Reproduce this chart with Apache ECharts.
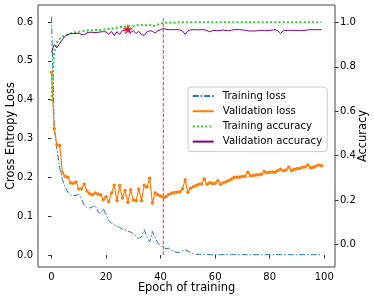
<!DOCTYPE html>
<html>
<head>
<meta charset="utf-8">
<script src="https://cdn.jsdelivr.net/npm/echarts@6/dist/echarts.min.js"></script>
<style>
html,body{margin:0;padding:0;background:#fff;}
#chart{width:374px;height:299px;}
</style>
</head>
<body>
<div id="chart"></div>
<script>
// ---- data ----
const seriesNames = ['Training loss', 'Validation loss', 'Training accuracy', 'Validation accuracy'];

const trainLoss = [
  0.613, 0.33, 0.272, 0.225, 0.195, 0.175, 0.162, 0.155, 0.153, 0.154,
  0.156, 0.145, 0.128, 0.122, 0.121, 0.124, 0.128, 0.112, 0.107, 0.119,
  0.104, 0.089, 0.082, 0.078, 0.075, 0.071, 0.067, 0.065, 0.062, 0.059,
  0.055, 0.048, 0.043, 0.047, 0.065, 0.047, 0.034, 0.061, 0.045, 0.031,
  0.025, 0.021, 0.016, 0.018, 0.013, 0.009, 0.007, 0.007, 0.011, 0.014,
  0.010, 0.006, 0.003, 0.002, 0.002, 0.002, 0.002, 0.002, 0.001, 0.001,
  0.001, 0.001, 0.001, 0.001, 0.001, 0.001, 0.001, 0.001, 0.001, 0.001,
  0.001, 0.001, 0.001, 0.001, 0.001, 0.001, 0.001, 0.001, 0.001, 0.001,
  0.001, 0.001, 0.001, 0.001, 0.001, 0.001, 0.001, 0.001, 0.001, 0.001,
  0.001, 0.001, 0.001, 0.001, 0.001, 0.001, 0.001, 0.001, 0.001, 0.001
];

const valLoss = [
  0.47, 0.325, 0.284, 0.282, 0.212, 0.203, 0.2, 0.186, 0.185, 0.188,
  0.17, 0.171, 0.182, 0.165, 0.158, 0.155, 0.16, 0.157, 0.155, 0.143,
  0.15, 0.137, 0.16, 0.18, 0.14, 0.179, 0.147, 0.166, 0.136, 0.168,
  0.142, 0.14, 0.17, 0.14, 0.18, 0.175, 0.198, 0.134, 0.16, 0.155,
  0.152, 0.148, 0.151, 0.156, 0.159, 0.161, 0.162, 0.163, 0.17, 0.194,
  0.162, 0.172, 0.176, 0.179, 0.182, 0.183, 0.196, 0.182, 0.186, 0.184,
  0.185, 0.191, 0.182, 0.186, 0.189, 0.192, 0.196, 0.2, 0.2, 0.201,
  0.202, 0.203, 0.213, 0.204, 0.205, 0.206, 0.207, 0.208, 0.215, 0.212,
  0.213, 0.214, 0.213, 0.218, 0.221, 0.217, 0.219, 0.227, 0.218, 0.221,
  0.222, 0.223, 0.226, 0.227, 0.232, 0.225, 0.226, 0.229, 0.232, 0.23
];

const trainAcc = [
  0.645, 0.87, 0.91, 0.926, 0.935, 0.94, 0.945, 0.95, 0.953, 0.956,
  0.958, 0.96, 0.962, 0.963, 0.963, 0.964, 0.965, 0.966, 0.966, 0.967,
  0.969, 0.97, 0.971, 0.973, 0.976, 0.978, 0.979, 0.98, 0.981, 0.983,
  0.984, 0.986, 0.988, 0.988, 0.986, 0.988, 0.989, 0.983, 0.985, 0.99,
  0.994, 0.997, 0.999, 0.998, 0.999, 0.998, 0.999, 1.0, 1.0, 1.0,
  1.0, 1.0, 1.0, 1.0, 1.0, 1.0, 1.0, 1.0, 1.0, 1.0,
  1.0, 1.0, 1.0, 1.0, 1.0, 1.0, 1.0, 1.0, 1.0, 1.0,
  1.0, 1.0, 1.0, 1.0, 1.0, 1.0, 1.0, 1.0, 1.0, 1.0,
  1.0, 1.0, 1.0, 1.0, 1.0, 1.0, 1.0, 1.0, 1.0, 1.0,
  1.0, 1.0, 1.0, 1.0, 1.0, 1.0, 1.0, 1.0, 1.0, 1.0
];

const valAcc = [
  0.865, 0.9, 0.885, 0.905, 0.922, 0.938, 0.945, 0.949, 0.95, 0.95,
  0.951, 0.945, 0.944, 0.953, 0.955, 0.955, 0.954, 0.955, 0.957, 0.958,
  0.957, 0.947, 0.959, 0.94, 0.958, 0.945, 0.963, 0.965, 0.97, 0.954,
  0.963, 0.949, 0.96, 0.945, 0.941, 0.957, 0.962, 0.96, 0.952, 0.962,
  0.967, 0.972, 0.969, 0.967, 0.967, 0.967, 0.967, 0.966, 0.961, 0.946,
  0.962, 0.966, 0.967, 0.967, 0.966, 0.967, 0.967, 0.962, 0.957, 0.963,
  0.963, 0.962, 0.964, 0.965, 0.963, 0.962, 0.965, 0.967, 0.967, 0.967,
  0.966, 0.964, 0.962, 0.961, 0.961, 0.961, 0.963, 0.964, 0.963, 0.962,
  0.964, 0.965, 0.967, 0.962, 0.95, 0.962, 0.964, 0.964, 0.964, 0.964,
  0.963, 0.962, 0.963, 0.964, 0.966, 0.967, 0.967, 0.967, 0.967, 0.967
];

const xTicks = [0, 20, 40, 60, 80, 100];
const lossTicks = [0.0, 0.1, 0.2, 0.3, 0.4, 0.5, 0.6];
const accTicks = [0.0, 0.2, 0.4, 0.6, 0.8, 1.0];

const starEpoch = 28;          // red star on validation accuracy
const stopEpoch = 41;          // red dashed vertical marker
// ---------------------------------------

const FONT = 'DejaVu Sans';
const pairs = arr => arr.map((v, i) => [i, v]);
const lossTop = Math.max(...trainLoss);

const chart = echarts.init(document.getElementById('chart'), null, {renderer: 'canvas'});
const tickStyle = {color: '#333', width: 1};
const noMarker = {color: 'rgba(0,0,0,0)', borderWidth: 0, opacity: 0};

const option = {
  animation: false,
  backgroundColor: '#fff',
  textStyle: {fontFamily: FONT},
  grid: {left: 38, right: 39, top: 5, bottom: 32, show: true, borderColor: '#444', borderWidth: 1,
    containLabel: false, outerBoundsMode: 'none'},
  legend: {
    data: [
      {name: seriesNames[0], itemStyle: noMarker},
      {name: seriesNames[1]},
      {name: seriesNames[2], itemStyle: noMarker},
      {name: seriesNames[3], itemStyle: noMarker}
    ],
    orient: 'vertical',
    left: 188, top: 87,
    itemWidth: 21, itemHeight: 3, itemGap: 3.2,
    padding: [3, 5, 4, 3.7],
    backgroundColor: 'rgba(255,255,255,0.85)',
    borderColor: '#ccc', borderWidth: 1, borderRadius: 3,
    textStyle: {fontFamily: FONT, fontSize: 10.2, color: '#000', lineHeight: 12, padding: [0, 0, 0, 4]}
  },
  xAxis: {
    type: 'value', min: -4.95, max: 103.95,
    name: 'Epoch of training', nameLocation: 'middle', nameGap: 16, nameMoveOverlap: false,
    nameTextStyle: {fontFamily: FONT, fontSize: 11.4, color: '#000'},
    axisLine: {show: false},
    splitLine: {show: false},
    axisTick: {show: true, length: 3.5, lineStyle: tickStyle, customValues: xTicks},
    axisLabel: {fontFamily: FONT, fontSize: 10, color: '#000', margin: 5, customValues: xTicks,
      formatter: v => String(v)}
  },
  yAxis: [{
    type: 'value', min: -0.0307, max: 0.6437, position: 'left',
    name: 'Cross Entropy Loss', nameLocation: 'middle', nameGap: 21, nameMoveOverlap: false,
    nameTextStyle: {fontFamily: FONT, fontSize: 11.4, color: '#000'},
    axisLine: {show: false},
    splitLine: {show: false},
    axisTick: {show: true, length: 3.5, lineStyle: tickStyle, customValues: lossTicks},
    axisLabel: {fontFamily: FONT, fontSize: 10, color: '#000', margin: 5, customValues: lossTicks,
      formatter: v => v.toFixed(1)}
  }, {
    type: 'value', min: -0.101, max: 1.078, position: 'right',
    name: 'Accuracy', nameLocation: 'middle', nameGap: 23, nameMoveOverlap: false,
    nameTextStyle: {fontFamily: FONT, fontSize: 11.4, color: '#000'},
    axisLine: {show: false},
    splitLine: {show: false},
    axisTick: {show: true, length: 3.5, lineStyle: tickStyle, customValues: accTicks},
    axisLabel: {fontFamily: FONT, fontSize: 10, color: '#000', margin: 5, customValues: accTicks,
      formatter: v => v.toFixed(1)}
  }],
  series: [{
    name: seriesNames[0], type: 'line', yAxisIndex: 0,
    data: pairs(trainLoss), symbol: 'none', showSymbol: false,
    lineStyle: {color: '#1f77b4', width: 1, type: [6, 2, 1.5, 2]},
    itemStyle: {color: '#1f77b4'}
  }, {
    name: seriesNames[1], type: 'line', yAxisIndex: 0,
    data: pairs(valLoss), symbol: 'circle', symbolSize: 3.5, showSymbol: true, showAllSymbol: true,
    lineStyle: {color: '#ff7f0e', width: 1.2},
    itemStyle: {color: '#ff7f0e'}
  }, {
    name: 'stop', type: 'line', yAxisIndex: 0, silent: true,
    data: [[stopEpoch, 0], [stopEpoch, lossTop]], symbol: 'none',
    lineStyle: {color: 'rgba(245,40,40,0.85)', width: 1.1, type: [3.7, 1.6]}
  }, {
    name: seriesNames[2], type: 'line', yAxisIndex: 1,
    data: pairs(trainAcc), symbol: 'none', showSymbol: false,
    lineStyle: {color: '#32cd32', width: 2, type: [2, 2.2]},
    itemStyle: {color: '#32cd32'}
  }, {
    name: seriesNames[3], type: 'line', yAxisIndex: 1,
    data: pairs(valAcc), symbol: 'none', showSymbol: false,
    lineStyle: {color: '#800080', width: 1},
    itemStyle: {color: '#800080'}
  }, {
    name: 'best', type: 'scatter', yAxisIndex: 1, silent: true,
    data: [[starEpoch, valAcc[starEpoch]]],
    symbol: 'path://M50,0 L61,35 L98,35 L68,57 L79,91 L50,70 L21,91 L32,57 L2,35 L39,35 Z',
    symbolSize: 11,
    itemStyle: {color: '#ff0000'}
  }]
};
chart.setOption(option);
</script>
</body>
</html>
